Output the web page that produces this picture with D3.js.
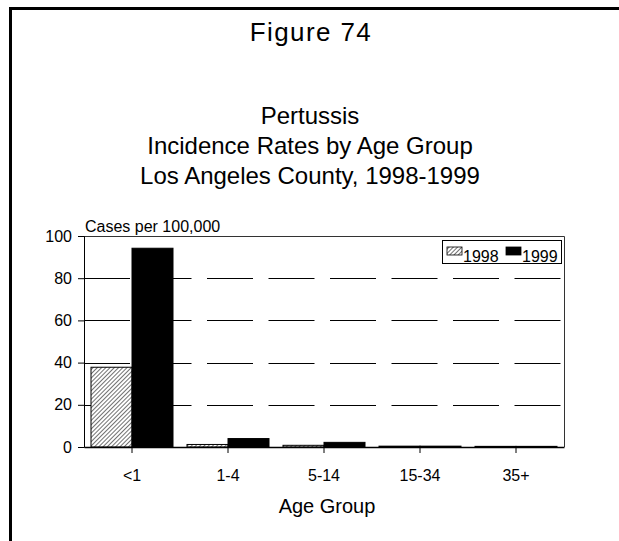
<!DOCTYPE html>
<html>
<head>
<meta charset="utf-8">
<script src="https://cdn.jsdelivr.net/npm/d3@7"></script>
<style>
  html, body { margin: 0; padding: 0; background: #fff; }
  svg { display: block; font-family: "Liberation Sans", Arial, sans-serif; }
</style>
</head>
<body>
<div id="chart"></div>
<script>
// values
var ageGroups = ["<1", "1-4", "5-14", "15-34", "35+"];
var years = ["1998", "1999"];
var rates1998 = [37.8, 1.2, 0.8, 0.4, 0.3];
var rates1999 = [94.2, 4.0, 2.2, 0.4, 0.3];
var yTicks = [0, 20, 40, 60, 80, 100];
var titleLines = ["Pertussis", "Incidence Rates by Age Group", "Los Angeles County, 1998-1999"];

var W = 619, H = 541;
var margin = {top: 236, left: 84, right: 55, bottom: 94};
var width = W - margin.left - margin.right,
    height = H - margin.top - margin.bottom;

var svg = d3.select("#chart").append("svg")
    .attr("width", W)
    .attr("height", H);

// hatch for 1998
var defs = svg.append("defs");
var pat = defs.append("pattern")
    .attr("id", "hatch")
    .attr("patternUnits", "userSpaceOnUse")
    .attr("width", 3)
    .attr("height", 3)
    .attr("patternTransform", "rotate(45)");
pat.append("rect").attr("width", 3).attr("height", 3).attr("fill", "#fff");
pat.append("line")
    .attr("x1", 0).attr("y1", 0).attr("x2", 0).attr("y2", 3)
    .attr("stroke", "#333").attr("stroke-width", 1.4);

// page frame (top + left only)
svg.append("line").attr("x1", 9).attr("x2", W).attr("y1", 8.5).attr("y2", 8.5)
    .attr("stroke", "#000").attr("stroke-width", 3);
svg.append("line").attr("x1", 10.5).attr("x2", 10.5).attr("y1", 7).attr("y2", H)
    .attr("stroke", "#000").attr("stroke-width", 3);

svg.append("text")
    .attr("x", 311).attr("y", 41)
    .attr("text-anchor", "middle")
    .style("font-size", "26px")
    .style("letter-spacing", "1.4px")
    .text("Figure 74");

svg.selectAll(".title").data(titleLines).enter().append("text")
    .attr("class", "title")
    .attr("x", 310)
    .attr("y", function(d, i){ return 124 + i * 30; })
    .attr("text-anchor", "middle")
    .style("font-size", "24px")
    .text(function(d){ return d; });

var g = svg.append("g").attr("transform", "translate(" + margin.left + "," + margin.top + ")");

var x0 = d3.scaleBand().domain(ageGroups).range([0, width]).padding(0);
var x1 = d3.scaleBand().domain(years).range([7, x0.bandwidth() - 7]);
var y = d3.scaleLinear().domain([0, 100]).range([height, 0]);

// dashed gridlines
g.selectAll(".grid").data(yTicks.slice(1)).enter().append("line")
    .attr("class", "grid")
    .attr("x1", 0).attr("x2", width)
    .attr("y1", function(d){ return Math.round(y(d)) + 0.5; })
    .attr("y2", function(d){ return Math.round(y(d)) + 0.5; })
    .attr("stroke", "#000")
    .attr("stroke-dasharray", "46,15.5");

var rows = ageGroups.map(function(a, i){
    return {group: a, values: [{year: "1998", v: rates1998[i]}, {year: "1999", v: rates1999[i]}]};
});

var grp = g.selectAll(".grp").data(rows).enter().append("g")
    .attr("transform", function(d){ return "translate(" + x0(d.group) + ",0)"; });

grp.selectAll("rect").data(function(d){ return d.values; }).enter().append("rect")
    .attr("x", function(d){ return x1(d.year); })
    .attr("width", x1.bandwidth())
    .attr("y", function(d){ return y(d.v); })
    .attr("height", function(d){ return height - y(d.v); })
    .attr("fill", function(d){ return d.year === "1998" ? "url(#hatch)" : "#000"; })
    .attr("stroke", "#000")
    .attr("stroke-width", 1);

// plot border: top and right
g.append("path")
    .attr("d", "M0,0.5H" + (width + 0.5) + "V" + height)
    .attr("fill", "none")
    .attr("stroke", "#333");

// y axis
var yAxis = d3.axisLeft(y).tickValues(yTicks).tickSize(6).tickPadding(6);
var ya = g.append("g").attr("class", "y axis").call(yAxis);
ya.selectAll("text").style("font-size", "16px").attr("fill", "#000");
ya.select(".domain").attr("stroke", "#000");

// x axis, ticks at category centres
var xAxis = d3.axisBottom(x0).tickSize(6).tickPadding(17).tickSizeOuter(0);
var xa = g.append("g").attr("class", "x axis").attr("transform", "translate(0," + height + ")").call(xAxis);
xa.selectAll("text").style("font-size", "16px").attr("fill", "#000");
xa.select(".domain").attr("stroke", "#000").attr("stroke-width", 1.5);

g.append("text")
    .attr("x", 1).attr("y", -4)
    .style("font-size", "16px")
    .text("Cases per 100,000");

g.append("text")
    .attr("x", width / 2 + 3).attr("y", height + 66)
    .attr("text-anchor", "middle")
    .style("font-size", "20px")
    .text("Age Group");

// legend
var leg = svg.append("g").attr("transform", "translate(442,240)");
leg.append("rect").attr("x", 0.5).attr("y", 0.5).attr("width", 119).attr("height", 23)
    .attr("fill", "#fff").attr("stroke", "#000");
var items = leg.selectAll(".item").data(years).enter().append("g")
    .attr("transform", function(d, i){ return "translate(" + (5 + i * 59) + ",0)"; });
items.append("rect")
    .attr("x", 0).attr("y", 7).attr("width", 15).attr("height", 8)
    .attr("fill", function(d){ return d === "1998" ? "url(#hatch)" : "#000"; })
    .attr("stroke", "#000").attr("stroke-width", 0.8);
items.append("text")
    .attr("x", 16).attr("y", 22)
    .style("font-size", "16px")
    .text(function(d){ return d; });
</script>
</body>
</html>
